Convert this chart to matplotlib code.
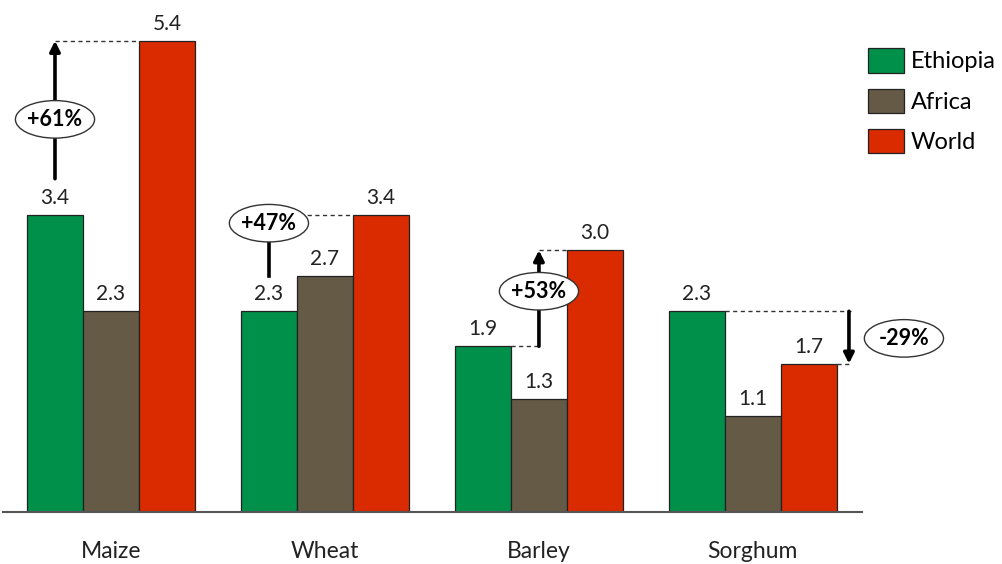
import matplotlib
matplotlib.use("Agg")
import matplotlib.pyplot as plt
from matplotlib.patches import Ellipse, Patch
import numpy as np

plt.rcParams['font.family'] = ['Lato', 'DejaVu Sans']

# Yield by crop (t/ha)
crops = ['Maize', 'Wheat', 'Barley', 'Sorghum']
ethiopia = [3.4, 2.3, 1.9, 2.3]
africa = [2.3, 2.7, 1.3, 1.1]
world = [5.4, 3.4, 3.0, 1.7]
series_names = ['Ethiopia', 'Africa', 'World']
colors = ['#00904A', '#655A46', '#DA2A00']

# Ethiopia vs World gap labels
gap_labels = ['+61%', '+47%', '+53%', '-29%']

fig = plt.figure(figsize=(10.02, 5.64), dpi=100)
ax = fig.add_axes([3 / 1002, 52 / 564, 859 / 1002, 486 / 564])

x = np.arange(len(crops))
w = 0.262
for i, (vals, name, col) in enumerate(zip([ethiopia, africa, world], series_names, colors)):
    pos = x + (i - 1) * w
    ax.bar(pos, vals, width=w, color=col, edgecolor='#222222', linewidth=0.9, label=name)
    for px, v in zip(pos, vals):
        ax.annotate(f'{v:.1f}', (px, v), xytext=(0, 5), textcoords='offset points',
                    ha='center', va='bottom', fontsize=15, color='#222222')

ax.set_xlim(-0.505, 3.51)
ax.set_ylim(0, 5.57)
ax.set_yticks([])
ax.set_xticks(x)
ax.set_xticklabels(crops, fontsize=16.5, color='#222222')
ax.tick_params(axis='x', length=0, pad=21)
for side in ['top', 'right', 'left']:
    ax.spines[side].set_visible(False)
ax.spines['bottom'].set_color('#555555')
ax.spines['bottom'].set_linewidth(1.5)

dash = dict(color='#333333', lw=1.0, ls=(0, (3, 2.5)))
arrow = dict(arrowstyle='-|>,head_length=0.6,head_width=0.3', color='black', lw=2.6,
             shrinkA=0, shrinkB=0)
ell_w, ell_h = 0.37, 0.43


def gap_ellipse(cx, cy, label):
    ax.add_patch(Ellipse((cx, cy), ell_w, ell_h, facecolor='white', edgecolor='#333333',
                         lw=1.0, zorder=4, clip_on=False))
    ax.text(cx, cy, label, ha='center', va='center', fontsize=15.5, fontweight='bold',
            zorder=5, clip_on=False)


# Maize: arrow from above the Ethiopia label up to the World bar top
ax_m = x[0] - w
ax.plot([ax_m, x[0] + w - w / 2], [world[0], world[0]], **dash)
ax.annotate('', xy=(ax_m, world[0]), xytext=(ax_m, 3.82), arrowprops=arrow, zorder=3)
gap_ellipse(ax_m, 4.5, gap_labels[0])

# Wheat: short stem, ellipse covers the top part
ax_w = x[1] - w
ax.plot([ax_w, x[1] + w - w / 2], [world[1], world[1]], **dash)
ax.plot([ax_w, ax_w], [2.7, 3.3], color='black', lw=2.6, zorder=3)
gap_ellipse(ax_w, 3.31, gap_labels[1])

# Barley: arrow over the Africa bar
ax_b = x[2]
ax.plot([x[2] - w / 2, ax_b], [ethiopia[2], ethiopia[2]], **dash)
ax.plot([ax_b, x[2] + w / 2], [world[2], world[2]], **dash)
ax.annotate('', xy=(ax_b, world[2]), xytext=(ax_b, ethiopia[2]), arrowprops=arrow, zorder=3)
gap_ellipse(ax_b, 2.53, gap_labels[2])

# Sorghum: downward arrow right of the World bar
ax_s = x[3] + 0.449
ax.plot([x[3] - w / 2, ax_s + 0.01], [ethiopia[3], ethiopia[3]], **dash)
ax.plot([x[3] + 1.5 * w, ax_s], [world[3], world[3]], **dash)
ax.annotate('', xy=(ax_s, world[3]), xytext=(ax_s, ethiopia[3]), arrowprops=arrow, zorder=3)
gap_ellipse(x[3] + 0.706, 1.99, gap_labels[3])

handles = [Patch(facecolor=c, edgecolor='#222222', lw=0.9) for c in colors]
fig.legend(handles, series_names, loc='upper left', bbox_to_anchor=(866 / 1002, 1 - 46 / 564),
           frameon=False, fontsize=17, handlelength=1.5, handleheight=1.2,
           handletextpad=0.3, labelspacing=0.68, borderaxespad=0, borderpad=0.1)

fig.savefig('out.png', dpi=100)
